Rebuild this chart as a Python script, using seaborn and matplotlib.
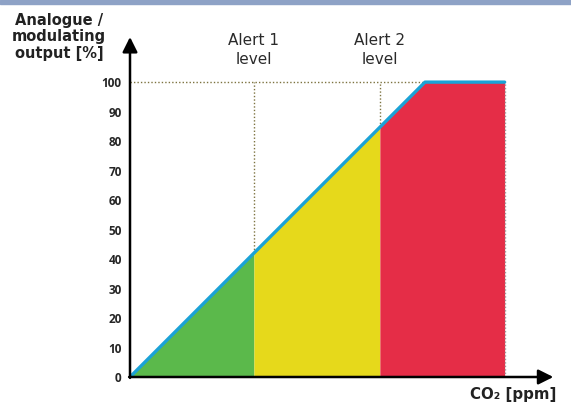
import matplotlib
matplotlib.use("Agg")
import matplotlib.pyplot as plt
import seaborn as sns
import pandas as pd
import numpy as np

# curve of the output vs CO2 (x in arbitrary ppm units)
co2 = [0, 42, 84.7, 100, 127]
output = [0, 42, 84.7, 100, 100]
alert_levels = [42, 84.7]
alert_labels = ["Alert 1\nlevel", "Alert 2\nlevel"]
zone_colors = ["#5bb94b", "#e6d91b", "#e52d47"]
y_ticks = [0, 10, 20, 30, 40, 50, 60, 70, 80, 90, 100]

sns.set_style("white")
plt.rcParams['font.family'] = ['DejaVu Sans']

fig = plt.figure(figsize=(5.71, 4.05), dpi=100)
ax = fig.add_axes([130 / 571, 28 / 405, 430.7 / 571, 345 / 405])
ax.set_xlim(0, 146)
ax.set_ylim(0, 117)

df = pd.DataFrame({'co2': co2, 'output': output})

def curve(x):
    return np.interp(x, co2, output)

# zones
bounds = [0] + alert_levels + [co2[-1]]
for i, c in enumerate(zone_colors):
    lo, hi = bounds[i], bounds[i + 1]
    xs = [lo] + [v for v in co2 if lo < v < hi] + [hi]
    ys = [curve(v) for v in xs]
    ax.fill_between(xs, 0, ys, color=c, lw=0, zorder=1)

# dotted guides
ax.plot([0, 100], [100, 100], ls=(0, (1, 1.5)), color="#7d7340", lw=1, zorder=2)
for a in alert_levels:
    ax.plot([a, a], [curve(a), 100], ls=(0, (1, 1.5)), color="#7d7340", lw=1, zorder=2)
ax.plot([co2[-1], co2[-1]], [0, 100], ls=(0, (1, 1.5)), color="#999999", lw=1, zorder=2)

sns.lineplot(data=df, x='co2', y='output', color="#1ba2d6", lw=2.4, ax=ax, zorder=3)

# axes arrows
for s in ax.spines.values():
    s.set_visible(False)
ax.annotate("", xy=(143.5, 0), xytext=(-0.3, 0),
            arrowprops=dict(arrowstyle="-|>,head_length=0.9,head_width=0.45", color="black", lw=1.8, shrinkA=0, shrinkB=0),
            zorder=4, annotation_clip=False)
ax.annotate("", xy=(0, 115.3), xytext=(0, -0.3),
            arrowprops=dict(arrowstyle="-|>,head_length=0.9,head_width=0.45", color="black", lw=1.8, shrinkA=0, shrinkB=0),
            zorder=4, annotation_clip=False)

ax.set_xticks([])
ax.set_yticks(y_ticks)
ax.set_yticklabels([str(t) for t in y_ticks], fontsize=8.5, fontweight='bold', family='Open Sans')
ax.tick_params(axis='y', length=0, pad=6)
ax.set_xlabel("")
ax.set_ylabel("")

for a, lab in zip(alert_levels, alert_labels):
    ax.text(a, 110.8, lab, ha='center', va='center', fontsize=11, color="#2a2a2a", linespacing=1.3)

fig.text(59 / 571, 1 - 37 / 405, "Analogue /\nmodulating\noutput [%]", ha='center', va='center',
         fontsize=10.5, fontweight='bold', color="#222222", linespacing=1.12)
fig.text(556 / 571, 1 - 394 / 405, "CO₂ [ppm]", ha='right', va='center',
         fontsize=10.8, fontweight='bold', color="#222222")

# top border band
fig.patches.append(plt.Rectangle((0, 1 - 4 / 405), 1, 4 / 405, transform=fig.transFigure,
                                 color="#8ea2c6", zorder=0))

fig.savefig("out.png", dpi=100)
